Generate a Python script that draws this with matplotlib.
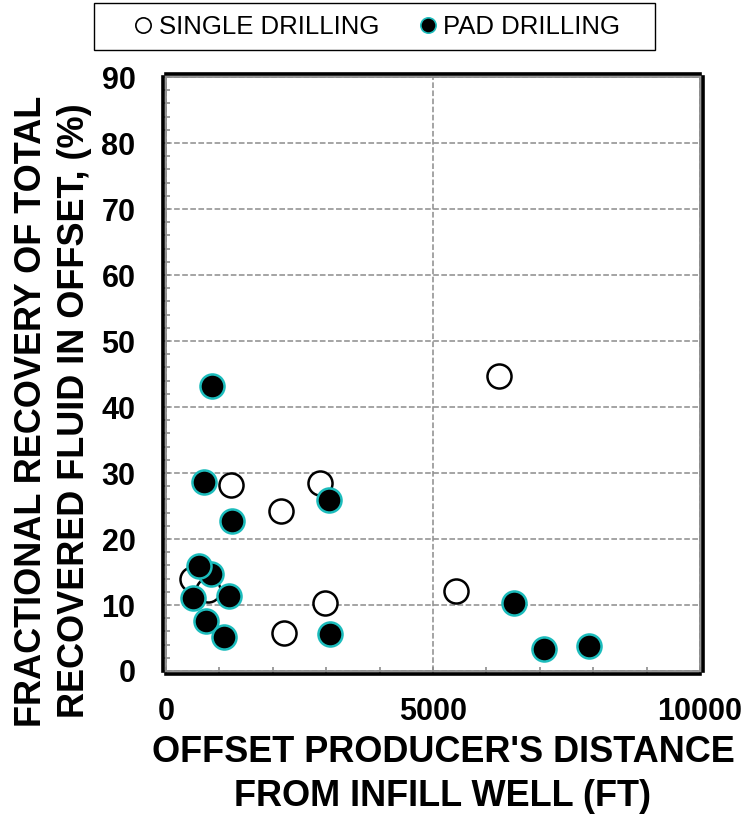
import matplotlib
matplotlib.use("Agg")
import matplotlib.pyplot as plt
from matplotlib.lines import Line2D
from matplotlib.patches import Rectangle

# data
single_x = [481, 790, 1217, 2150, 2210, 2890, 2980, 5430, 6236]
single_y = [14.0, 12.3, 28.2, 24.2, 5.8, 28.5, 10.3, 12.1, 44.7]

pad_x = [843, 618, 856, 718, 1230, 3044, 3070, 6520, 7085, 7920, 511, 1186, 749, 1086]
pad_y = [14.7, 15.9, 43.2, 28.6, 22.8, 25.9, 5.6, 10.3, 3.3, 3.8, 11.0, 11.4, 7.6, 5.2]

x_ticks = [0, 5000, 10000]
y_ticks = [0, 10, 20, 30, 40, 50, 60, 70, 80, 90]

plt.rcParams['font.family'] = ['Liberation Sans', 'DejaVu Sans']
plt.rcParams['font.weight'] = 'bold'

fig = plt.figure(figsize=(7.49, 8.16), dpi=100)
ax = fig.add_axes([0.2216, 0.1777, 0.713, 0.7279])

ax.scatter(single_x, single_y, s=300, facecolor='white', edgecolor='black',
           linewidth=1.8, zorder=3)
ax.scatter(pad_x, pad_y, s=300, facecolor='black', edgecolor='#1CBCBC',
           linewidth=1.8, zorder=4)

ax.set_xlim(0, 10000)
ax.set_ylim(0, 90)
ax.set_xticks(x_ticks)
ax.set_yticks(y_ticks)
ax.set_xticks(range(0, 10001, 1000), minor=True)
ax.set_yticks(range(0, 91, 2), minor=True)

ax.grid(True, which='major', color='#8c8c8c', linestyle='--', linewidth=1.1)
ax.set_axisbelow(True)

ax.tick_params(which='both', direction='in', color='#8c8c8c', length=5, width=1.2,
               labelsize=22)
ax.tick_params(axis='y', which='major', pad=20)
ax.tick_params(axis='x', which='major', pad=17)

for sp in ax.spines.values():
    sp.set_linewidth(2.6)
    sp.set_color('black')
    sp.set_position(('outward', 2))
ax.add_patch(Rectangle((0, 0), 1, 1, transform=ax.transAxes, fill=False,
                       edgecolor='#8c8c8c', linewidth=1.3, clip_on=False, zorder=5))

# axis labels
fig.text(443 / 749, 1 - 753 / 816, "OFFSET PRODUCER'S DISTANCE", ha='center', va='center',
         fontsize=26, fontweight='bold')
fig.text(443 / 749, 1 - 797 / 816, "FROM INFILL WELL (FT)", ha='center', va='center',
         fontsize=26, fontweight='bold')
fig.text(53 / 749, 1 - 411 / 816,
         "FRACTIONAL RECOVERY OF TOTAL\nRECOVERED FLUID IN OFFSET, (%)",
         rotation=90, ha='center', va='center', fontsize=26, fontweight='bold',
         multialignment='center', linespacing=1.28)

# legend with its own box
fig.patches.append(Rectangle((94 / 749, 1 - 50 / 816), (655 - 94) / 749, 47 / 816,
                             transform=fig.transFigure, fill=False,
                             edgecolor='black', linewidth=1.0))
handles = [
    Line2D([], [], linestyle='none', marker='o', markersize=11,
           markerfacecolor='white', markeredgecolor='black', markeredgewidth=1.2),
    Line2D([], [], linestyle='none', marker='o', markersize=11,
           markerfacecolor='black', markeredgecolor='#1CBCBC', markeredgewidth=1.2),
]
fig.legend(handles, ['SINGLE DRILLING', 'PAD DRILLING'], ncol=2, frameon=False,
           loc='center', bbox_to_anchor=(378 / 749, 1 - 26.5 / 816),
           prop={'size': 18.5, 'weight': 'normal'},
           handlelength=0.6, handletextpad=0.3, columnspacing=1.6,
           borderpad=0, borderaxespad=0)

fig.savefig('out.png', dpi=100)
